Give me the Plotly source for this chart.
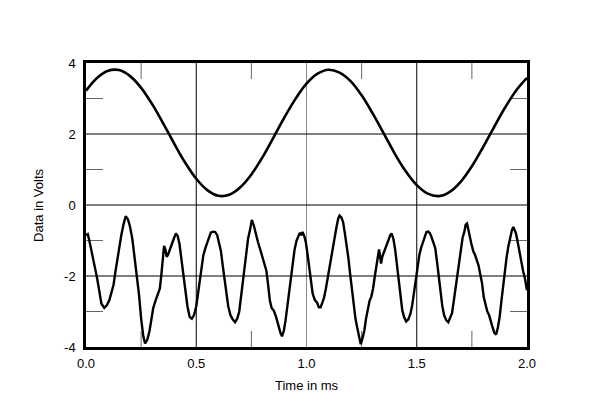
import plotly.graph_objects as go

# ---- data ----
x_tick_vals = [0.0, 0.5, 1.0, 1.5, 2.0]
x_tick_text = ["0.0", "0.5", "1.0", "1.5", "2.0"]
y_tick_vals = [-4, -2, 0, 2, 4]
y_tick_text = ["-4", "-2", "0", "2", "4"]

top_t = [0.00, 0.05, 0.10, 0.15, 0.20, 0.25, 0.30, 0.35, 0.40, 0.45, 0.50,
         0.55, 0.60, 0.65, 0.70, 0.75, 0.80, 0.85, 0.90, 0.95, 1.00,
         1.05, 1.10, 1.15, 1.20, 1.25, 1.30, 1.35, 1.40, 1.45, 1.50,
         1.55, 1.60, 1.65, 1.70, 1.75, 1.80, 1.85, 1.90, 1.95, 2.00]
top_v = [3.22, 3.58, 3.78, 3.80, 3.63, 3.30, 2.84, 2.30, 1.73, 1.19, 0.74,
         0.42, 0.26, 0.29, 0.50, 0.86, 1.34, 1.90, 2.47, 2.99, 3.42,
         3.70, 3.81, 3.73, 3.49, 3.09, 2.58, 2.02, 1.45, 0.95, 0.56,
         0.32, 0.25, 0.37, 0.66, 1.09, 1.62, 2.19, 2.74, 3.22, 3.58]

bot_t = [0.000, 0.008, 0.015, 0.028, 0.040, 0.050, 0.060, 0.070, 0.083, 0.095,
         0.106, 0.115, 0.125, 0.133, 0.142, 0.150, 0.160, 0.170, 0.180, 0.190,
         0.200, 0.210, 0.220, 0.230, 0.240, 0.250, 0.260, 0.268, 0.278, 0.288,
         0.297, 0.305, 0.315, 0.325, 0.335, 0.342, 0.348, 0.354, 0.360, 0.366,
         0.372, 0.380, 0.390, 0.398, 0.408, 0.416, 0.424, 0.432, 0.440, 0.450,
         0.460, 0.470, 0.480, 0.490, 0.500, 0.508, 0.516, 0.524, 0.532, 0.542,
         0.550, 0.558, 0.566, 0.576, 0.586, 0.595, 0.603, 0.612, 0.620, 0.628,
         0.636, 0.645, 0.655, 0.665, 0.676, 0.686, 0.695, 0.703, 0.711, 0.719,
         0.727, 0.735, 0.744, 0.752, 0.760, 0.770, 0.780, 0.790, 0.800, 0.810,
         0.818, 0.826, 0.834, 0.842, 0.852, 0.862, 0.872, 0.882, 0.889, 0.897,
         0.905, 0.913, 0.921, 0.929, 0.938, 0.946, 0.955, 0.963, 0.970, 0.976,
         0.982, 0.990, 0.997, 1.004, 1.012, 1.020, 1.028, 1.038, 1.048, 1.056,
         1.064, 1.072, 1.080, 1.088, 1.096, 1.104, 1.112, 1.120, 1.128, 1.136,
         1.144, 1.150, 1.158, 1.166, 1.174, 1.182, 1.190, 1.198, 1.206, 1.214,
         1.222, 1.230, 1.238, 1.246, 1.254, 1.262, 1.270, 1.278, 1.286, 1.294,
         1.302, 1.310, 1.318, 1.324, 1.329, 1.334, 1.338, 1.344, 1.350, 1.358,
         1.366, 1.374, 1.380, 1.386, 1.394, 1.402, 1.410, 1.418, 1.426, 1.434,
         1.442, 1.452, 1.462, 1.472, 1.480, 1.488, 1.496, 1.504, 1.512, 1.520,
         1.528, 1.536, 1.544, 1.552, 1.560, 1.568, 1.576, 1.584, 1.592, 1.600,
         1.608, 1.616, 1.624, 1.634, 1.643, 1.652, 1.660, 1.668, 1.676, 1.684,
         1.692, 1.700, 1.708, 1.716, 1.722, 1.728, 1.734, 1.740, 1.748, 1.756,
         1.764, 1.772, 1.780, 1.788, 1.796, 1.804, 1.812, 1.820, 1.828, 1.836,
         1.844, 1.852, 1.860, 1.868, 1.876, 1.884, 1.892, 1.900, 1.908, 1.916,
         1.924, 1.932, 1.938, 1.944, 1.950, 1.958, 1.966, 1.974, 1.982, 1.990,
         1.996, 2.000]
bot_v = [-0.85, -0.82, -1.00, -1.45, -1.75, -2.05, -2.45, -2.78, -2.90, -2.82,
         -2.68, -2.45, -2.25, -1.90, -1.50, -1.15, -0.85, -0.55, -0.32, -0.40,
         -0.62, -0.95, -1.45, -1.95, -2.50, -3.20, -3.70, -3.90, -3.80, -3.55,
         -3.20, -2.90, -2.70, -2.55, -2.35, -1.95, -1.55, -1.15, -1.25, -1.46,
         -1.40, -1.25, -1.12, -0.95, -0.80, -0.88, -1.10, -1.50, -1.90, -2.40,
         -2.85, -3.15, -3.20, -3.10, -2.85, -2.50, -2.10, -1.70, -1.42, -1.20,
         -1.05, -0.88, -0.78, -0.75, -0.76, -0.85, -1.05, -1.30, -1.70, -2.10,
         -2.50, -2.85, -3.10, -3.22, -3.30, -3.20, -3.00, -2.60, -2.15, -1.70,
         -1.30, -0.95, -0.70, -0.42, -0.55, -0.85, -1.05, -1.25, -1.45, -1.65,
         -1.85, -2.25, -2.70, -2.90, -2.98, -3.15, -3.40, -3.60, -3.70, -3.55,
         -3.25, -2.85, -2.40, -1.95, -1.55, -1.25, -1.00, -0.85, -0.78, -0.85,
         -0.76, -0.88, -1.05, -1.35, -1.75, -2.20, -2.50, -2.68, -2.75, -2.88,
         -2.88, -2.75, -2.60, -2.35, -2.05, -1.70, -1.40, -1.15, -0.90, -0.62,
         -0.38, -0.30, -0.35, -0.48, -0.80, -1.10, -1.50, -1.95, -2.40, -2.85,
         -3.20, -3.45, -3.65, -3.92, -3.75, -3.55, -3.20, -2.95, -2.70, -2.58,
         -2.35, -2.00, -1.65, -1.35, -1.25, -1.45, -1.65, -1.45, -1.35, -1.18,
         -1.05, -0.95, -0.85, -0.80, -0.95, -1.25, -1.70, -2.10, -2.55, -2.95,
         -3.15, -3.28, -3.22, -3.05, -2.80, -2.45, -2.05, -1.70, -1.40, -1.20,
         -1.05, -0.85, -0.76, -0.75, -0.80, -0.92, -1.05, -1.22, -1.60, -2.05,
         -2.55, -2.85, -3.10, -3.25, -3.30, -3.18, -3.05, -2.70, -2.35, -1.95,
         -1.58, -1.20, -0.92, -0.75, -0.55, -0.52, -0.70, -0.95, -1.10, -1.30,
         -1.40, -1.55, -1.70, -1.95, -2.20, -2.60, -2.85, -3.00, -3.10, -3.30,
         -3.45, -3.60, -3.65, -3.45, -3.15, -2.70, -2.25, -1.85, -1.45, -1.15,
         -0.90, -0.70, -0.62, -0.72, -0.80, -1.05, -1.35, -1.65, -1.85, -2.05,
         -2.30, -2.40]

major_x_grid = [0.5, 1.0, 1.5]
major_x_colors = ["#000000", "#8a8a8a", "#000000"]
major_y_grid = [-2, 0, 2]
minor_x = [0.25, 0.75, 1.25, 1.75]
minor_y = [-3, -1, 1, 3]

FONT = "Liberation Sans, Arial, sans-serif"

fig = go.Figure()
fig.add_trace(go.Scatter(x=top_t, y=top_v, mode="lines",
                         line=dict(color="black", width=2.6, shape="spline", smoothing=1.0),
                         hoverinfo="skip", showlegend=False))
fig.add_trace(go.Scatter(x=bot_t, y=bot_v, mode="lines",
                         line=dict(color="black", width=2.4),
                         hoverinfo="skip", showlegend=False))

shapes = []
for xv, c in zip(major_x_grid, major_x_colors):
    shapes.append(dict(type="line", xref="x", yref="paper", x0=xv, x1=xv, y0=0, y1=1,
                       line=dict(color=c, width=1), layer="below"))
for yv in major_y_grid:
    shapes.append(dict(type="line", xref="paper", yref="y", x0=0, x1=1, y0=yv, y1=yv,
                       line=dict(color="#000000", width=1), layer="below"))
for xv in minor_x:
    shapes.append(dict(type="line", xref="x", yref="y", ysizemode="pixel", yanchor=4,
                       x0=xv, x1=xv, y0=0, y1=-16, line=dict(color="#666666", width=1), layer="below"))
    shapes.append(dict(type="line", xref="x", yref="y", ysizemode="pixel", yanchor=-4,
                       x0=xv, x1=xv, y0=0, y1=16, line=dict(color="#666666", width=1), layer="below"))
for yv in minor_y:
    shapes.append(dict(type="line", xref="x", yref="y", xsizemode="pixel", xanchor=0,
                       x0=0, x1=17, y0=yv, y1=yv, line=dict(color="#666666", width=1), layer="below"))
    shapes.append(dict(type="line", xref="x", yref="y", xsizemode="pixel", xanchor=2,
                       x0=0, x1=-17, y0=yv, y1=yv, line=dict(color="#666666", width=1), layer="below"))

fig.update_layout(
    width=600, height=410,
    margin=dict(l=86, r=73, t=63, b=63),
    paper_bgcolor="white", plot_bgcolor="white",
    font=dict(family=FONT, size=13, color="black"),
    shapes=shapes,
    xaxis=dict(range=[0, 2], tickvals=x_tick_vals, ticktext=x_tick_text,
               showgrid=False, zeroline=False, showline=True, mirror=True,
               linecolor="black", linewidth=2.5, ticks="", ticklabelstandoff=3,
               tickfont=dict(size=13)),
    yaxis=dict(range=[-4, 4], tickvals=y_tick_vals, ticktext=y_tick_text,
               showgrid=False, zeroline=False, showline=True, mirror=True,
               linecolor="black", linewidth=2.5, ticks="", ticklabelstandoff=5,
               tickfont=dict(size=13)),
    annotations=[
        dict(text="Time in ms", xref="paper", yref="paper", x=0.5, y=-0.134,
             xanchor="center", yanchor="middle", showarrow=False, font=dict(size=13)),
        dict(text="Data in Volts", xref="paper", yref="paper", x=-0.109, y=0.5,
             xanchor="center", yanchor="middle", textangle=-90, showarrow=False,
             font=dict(size=13)),
    ],
)

fig.write_html("out.html")
